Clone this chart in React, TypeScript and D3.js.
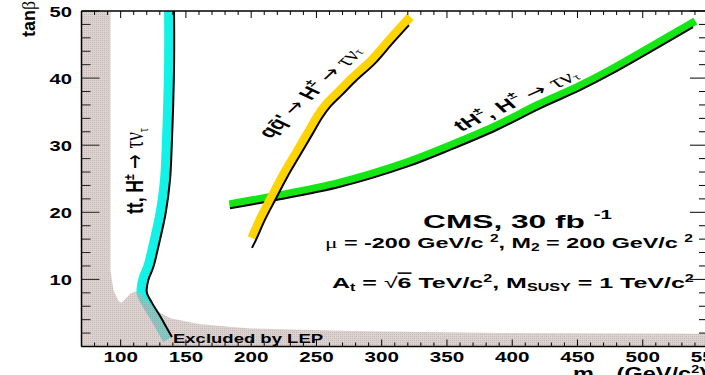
import React, { useLayoutEffect, useRef, useState } from "react";
import * as d3 from "d3";

const WIDTH = 705;
const HEIGHT = 375;

// axis domains and ticks
const massDomain = [70, 550];
const tanbDomain = [0, 50];
const xMajorTicks = [100, 150, 200, 250, 300, 350, 400, 450, 500, 550];
const xTickLabels = ["100", "150", "200", "250", "300", "350", "400", "450", "500", "550"];
const yMajorTicks = [10, 20, 30, 40, 50];
const yTickLabels = ["10", "20", "30", "40", "50"];

// LEP excluded region upper boundary (mH+, tanb)
const lepMass = [92.2, 92.2, 94.5, 98.3, 100.6, 103.7, 107.5, 111.3, 115.2, 119.8, 126.7, 138.1, 161.1, 199.4, 276.0, 390.8, 550];
const lepTanb = [50, 11.4, 8.4, 6.8, 6.5, 7.1, 7.9, 8.2, 7.9, 6.9, 5.4, 4.2, 3.3, 2.7, 2.3, 2.0, 1.9];

// tt, H+ -> tau nu discovery contour (cyan)
const ttMass = [140.9, 140.9, 139.1, 137.8, 134.5, 128.8, 125.0, 121.2, 120.0, 124.0, 129.4, 134.7, 139.3];
const ttTanb = [50, 41.6, 29.7, 24.8, 19.9, 14.8, 11.8, 9.9, 8.1, 6.5, 4.8, 3.0, 1.4];

// qq' -> H+ -> tau nu contour (yellow)
const qqMass = [200.6, 203.7, 210.6, 218.3, 227.5, 237.4, 247.4, 254.3, 260.4, 269.6, 280.3, 294.9, 307.9, 320.9];
const qqTanb = [14.7, 15.9, 18.9, 21.8, 25.2, 28.5, 31.8, 34.1, 35.7, 37.5, 39.6, 42.2, 45.1, 47.9];

// tH+, H+ -> tau nu contour (green)
const thMass = [183.8, 218.3, 268.1, 319.4, 352.3, 388.4, 421.3, 451.9, 474.9, 538.5];
const thTanb = [20.6, 21.8, 23.8, 26.8, 29.3, 32.3, 35.5, 38.2, 40.5, 47.6];

const SANS = "'Liberation Sans', Arial, Helvetica, sans-serif";
const SERIF = "'Liberation Serif', 'DejaVu Serif', serif";
const ARROW = "'DejaVu Sans', sans-serif";

type P = [number, number];

function offsetLine(pts: P[], w: number, side: number): P[] {
  const n = pts.length;
  const segN: P[] = [];
  for (let i = 0; i < n - 1; i++) {
    const dx = pts[i + 1][0] - pts[i][0];
    const dy = pts[i + 1][1] - pts[i][1];
    const L = Math.hypot(dx, dy) || 1;
    segN.push([(-dy / L) * side, (dx / L) * side]);
  }
  return pts.map((p, i) => {
    let nx: number, ny: number;
    let len = w;
    if (i === 0) [nx, ny] = segN[0];
    else if (i === n - 1) [nx, ny] = segN[n - 2];
    else {
      const a = segN[i - 1], b = segN[i];
      let mx = a[0] + b[0], my = a[1] + b[1];
      const L = Math.hypot(mx, my) || 1;
      mx /= L; my /= L;
      const c = mx * a[0] + my * a[1];
      len = w / Math.max(c, 0.5);
      nx = mx; ny = my;
    }
    return [p[0] + nx * len, p[1] + ny * len] as P;
  });
}

function extend(pts: P[], extEnd: number): P[] {
  if (extEnd <= 0) return pts;
  const a = pts[pts.length - 2], b = pts[pts.length - 1];
  const L = Math.hypot(b[0] - a[0], b[1] - a[1]) || 1;
  return pts.concat([[b[0] + ((b[0] - a[0]) / L) * extEnd, b[1] + ((b[1] - a[1]) / L) * extEnd]]);
}

type TxtProps = {
  x: number; y: number; angle?: number; S?: number; len?: number;
  anchor?: "start" | "middle" | "end"; fs: number; baseline?: string;
  weight?: string | number; family?: string; children: React.ReactNode;
};

function Txt({ x, y, angle = 0, S = 1.45, len, anchor = "start", fs, baseline, weight = "bold", family = SANS, children }: TxtProps) {
  const ref = useRef<SVGTextElement>(null);
  const [k, setK] = useState(1);
  const a = (angle * Math.PI) / 180;
  const tp = (Math.atan2(S * Math.sin(a), Math.cos(a)) * 180) / Math.PI;
  useLayoutEffect(() => {
    if (!ref.current || !len) return;
    const w = ref.current.getBBox().width;
    const tr = (tp * Math.PI) / 180;
    const Ldir = Math.hypot(S * Math.cos(tr), Math.sin(tr));
    if (w > 0) setK(len / (w * Ldir));
  }, [len, S, tp]);
  return (
    <g transform={`translate(${x},${y}) scale(${S},1) rotate(${tp}) scale(${k},1)`}>
      <text ref={ref} x={0} y={0} textAnchor={anchor} dominantBaseline={baseline as any}
        fontSize={fs} fontWeight={weight} fontFamily={family} fill="#000">
        {children}
      </text>
    </g>
  );
}

export default function App() {
  const left = 81.5, right = 708, top = 11, bottom = 346.5;
  const x = d3.scaleLinear().domain(massDomain).range([left, right]);
  const y = d3.scaleLinear().domain(tanbDomain).range([bottom, top]);
  const toPx = (ms: number[], ts: number[]): P[] => ms.map((m, i) => [x(m), y(ts[i])] as P);
  const curve = d3.line<P>().curve(d3.curveCatmullRom.alpha(0.5));
  const poly = d3.line<P>();

  const lepPts: P[] = [[x(massDomain[0]), y(tanbDomain[1])] as P]
    .concat(toPx(lepMass, lepTanb))
    .concat([[x(massDomain[1]), y(tanbDomain[0])], [x(massDomain[0]), y(tanbDomain[0])]] as P[]);

  const ttPts = toPx(ttMass, ttTanb);
  const qqPts = toPx(qqMass, qqTanb);
  const thPts = toPx(thMass, thTanb);

  const ttW = 10, qqW = 9, thW = 8;
  const ttMid = offsetLine(ttPts, ttW / 2, 1);
  const qqMid = offsetLine(extend(qqPts.slice(1), 7), qqW / 2, -1);
  const thMid = offsetLine(extend(thPts, 5), thW / 2, -1);

  const xMinor = d3.range(massDomain[0], massDomain[1] + 1, 10);
  const yMinor = d3.range(tanbDomain[0], tanbDomain[1] + 1, 2);

  const greek = { fontFamily: SERIF, fontWeight: "normal" as const };
  const arrow = { fontFamily: ARROW, fontWeight: "normal" as const };

  return (
    <svg width={WIDTH} height={HEIGHT} style={{ position: "absolute", left: 0, top: 0, background: "#fff" }}>
      <defs>
        <clipPath id="plotClip">
          <rect x={left} y={top} width={right - left} height={bottom - top} />
        </clipPath>
        <pattern id="lepHatch" width={2} height={2} patternUnits="userSpaceOnUse">
          <rect x={0} y={0} width={2} height={2} fill="#c3b4b0" fillOpacity={0.58} />
          <rect x={0} y={0} width={1} height={1} fill="#8f807b" fillOpacity={0.3} />
        </pattern>
      </defs>
      <rect x={0} y={0} width={WIDTH} height={HEIGHT} fill="#fff" />

      <g clipPath="url(#plotClip)">
        <path d={curve(ttMid) ?? ""} fill="none" stroke="#12f2e6" strokeWidth={ttW} />
        <path d={curve(thMid) ?? ""} fill="none" stroke="#14e614" strokeWidth={thW} />
        <path d={curve(thPts) ?? ""} fill="none" stroke="#000" strokeWidth={2} />
        <path d={curve(qqMid) ?? ""} fill="none" stroke="#ffd400" strokeWidth={qqW} />
        <path d={curve(qqPts) ?? ""} fill="none" stroke="#000" strokeWidth={2} />
        <path d={poly(lepPts) + "Z"} fill="url(#lepHatch)" />
        <path d={curve(ttPts) ?? ""} fill="none" stroke="#000" strokeWidth={2} />
      </g>

      {/* ticks */}
      <g stroke="#000" strokeWidth={1}>
        {xMinor.map((v) => {
          const major = xMajorTicks.includes(v);
          const l = major ? 7 : 4;
          return (
            <g key={"xt" + v}>
              <line x1={x(v)} x2={x(v)} y1={bottom} y2={bottom - l} />
              <line x1={x(v)} x2={x(v)} y1={top} y2={top + l} />
            </g>
          );
        })}
        {yMinor.map((v) => {
          const major = v % 10 === 0;
          const l = major ? 18 : 9;
          return (
            <g key={"yt" + v}>
              <line x1={left} x2={left + l} y1={y(v)} y2={y(v)} stroke="#222" />
              <line x1={right} x2={right - l} y1={y(v)} y2={y(v)} />
            </g>
          );
        })}
      </g>

      {/* frame */}
      <g stroke="#000" strokeWidth={1.5} fill="none">
        <line x1={left} x2={left} y1={top} y2={bottom} />
        <line x1={left} x2={right} y1={bottom} y2={bottom} />
        <line x1={left} x2={right} y1={top} y2={top} />
        <line x1={right} x2={right} y1={top} y2={bottom} />
      </g>

      {/* tick labels */}
      {xMajorTicks.map((v, i) => (
        <Txt key={"xl" + v} x={x(v)} y={362} anchor="middle" fs={15.5} S={1.33}>{xTickLabels[i]}</Txt>
      ))}
      {yMajorTicks.map((v, i) => (
        <Txt key={"yl" + v} x={72} y={y(v) + 5.5} anchor="end" fs={15.5} S={1.3}>{yTickLabels[i]}</Txt>
      ))}

      {/* axis titles */}
      <Txt x={35} y={37} angle={-90} S={1.2} fs={16} len={36}>
        tan<tspan {...greek}>β</tspan>
      </Txt>
      <Txt x={573} y={380} fs={18} S={1.4} len={134}>
        m<tspan fontSize={11} dy={6}>H</tspan><tspan fontSize={8} dy={-5}>±</tspan>
        <tspan dy={-1}> (GeV/c</tspan><tspan fontSize={11} dy={-7}>2</tspan><tspan dy={7}>)</tspan>
      </Txt>

      {/* curve labels */}
      <Txt x={143} y={214} angle={-90} S={1.5} fs={16.5} len={86}>
        tt, H<tspan fontSize={10} dy={-6}>±</tspan>
        <tspan dy={6} {...arrow}> → </tspan>
        <tspan {...greek} fontSize={18}>τν</tspan><tspan {...greek} fontSize={10} dy={3}>τ</tspan>
      </Txt>
      <Txt x={310} y={92} angle={-43} S={1.5} fs={16} len={128} anchor="middle" baseline="central">
        qq̄' <tspan {...arrow}>→ </tspan>H<tspan fontSize={10} dy={-6}>±</tspan>
        <tspan dy={6} {...arrow}> → </tspan>
        <tspan {...greek} fontSize={18}>τν</tspan><tspan {...greek} fontSize={10} dy={3}>τ</tspan>
      </Txt>
      <Txt x={516} y={100} angle={-24.5} S={1.5} fs={16} len={132} anchor="middle" baseline="central">
        tH<tspan fontSize={10} dy={-6}>±</tspan><tspan dy={6}>, H</tspan><tspan fontSize={10} dy={-6}>±</tspan>
        <tspan dy={6} {...arrow}> → </tspan>
        <tspan {...greek} fontSize={18}>τν</tspan><tspan {...greek} fontSize={10} dy={3}>τ</tspan>
      </Txt>

      {/* info text */}
      <Txt x={423} y={228} fs={18.5} S={1.45} len={189}>
        CMS, 30 fb <tspan fontSize={12} dy={-9}>-1</tspan>
      </Txt>
      <Txt x={325} y={248} fs={15} S={1.45} len={368}>
        <tspan {...greek}>μ</tspan> = -200 GeV/c <tspan fontSize={10} dy={-6}>2</tspan>
        <tspan dy={6}>, M</tspan><tspan fontSize={10} dy={3}>2</tspan>
        <tspan dy={-3}> = 200 GeV/c </tspan><tspan fontSize={10} dy={-6}>2</tspan>
      </Txt>
      <Txt x={332} y={288} fs={15.5} S={1.45} len={362}>
        A<tspan fontSize={10} dy={3}>t</tspan><tspan dy={-3}> = </tspan>
        <tspan fontWeight="normal">√</tspan><tspan textDecoration="overline">6</tspan> TeV/c
        <tspan fontSize={10} dy={-6}>2</tspan><tspan dy={6}>, M</tspan>
        <tspan fontSize={10} dy={3}>SUSY</tspan><tspan dy={-3}> = 1 TeV/c</tspan>
        <tspan fontSize={10} dy={-6}>2</tspan>
      </Txt>
      <Txt x={173} y={343} fs={12.5} S={1.45} len={150}>Excluded by LEP</Txt>
    </svg>
  );
}
